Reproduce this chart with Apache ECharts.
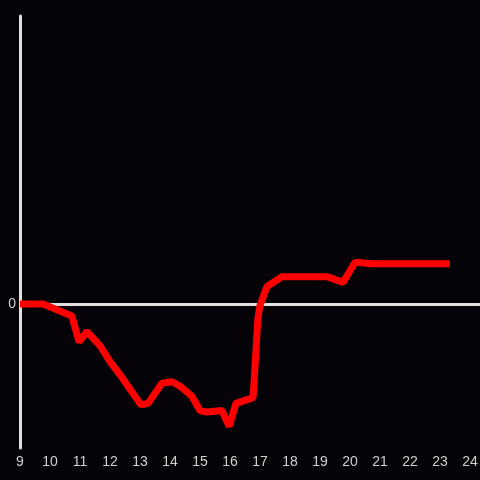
<!DOCTYPE html>
<html><head><meta charset="utf-8">
<script src="https://cdn.jsdelivr.net/npm/echarts@6/dist/echarts.min.js"></script>
<style>html,body{margin:0;padding:0;background:#050307}#c{width:480px;height:480px}</style>
</head><body><div id="c"></div>
<script>
const hours = [9.0, 9.77, 10.73, 10.97, 11.23, 11.67, 12.0, 12.33, 12.7, 13.03, 13.27, 13.73, 14.07, 14.33, 14.73, 15.0, 15.23, 15.73, 15.97, 16.2, 16.77, 16.93, 17.0, 17.23, 17.73, 19.23, 19.77, 20.17, 20.73, 23.33];
const values = [0, 0, -0.083, -0.264, -0.19, -0.29, -0.40, -0.49, -0.60, -0.70, -0.69, -0.55, -0.54, -0.57, -0.64, -0.74, -0.75, -0.74, -0.85, -0.69, -0.65, -0.10, -0.01, 0.12, 0.19, 0.19, 0.15, 0.29, 0.28, 0.28];
const yTickLabels = {"0": "0"};

const chart = echarts.init(document.getElementById('c'), null, {renderer: 'canvas'});
chart.setOption({
  backgroundColor: '#050307',
  animation: false,
  grid: {left: 20, right: 0, top: 16, bottom: 32, outerBoundsMode: 'none', containLabel: false},
  xAxis: {
    type: 'value', min: 9, max: 24.3333, interval: 1,
    axisLine: {show: false, onZero: false},
    axisTick: {show: false},
    splitLine: {show: false},
    axisLabel: {color: '#d0d0d0', fontSize: 14, fontFamily: 'Liberation Sans', margin: 7,
      formatter: v => Number.isInteger(v) ? String(v) : ''}
  },
  yAxis: {
    type: 'value', min: -1, max: 2, interval: 1,
    axisLine: {show: true, lineStyle: {color: '#e0e0e0', width: 3}},
    axisTick: {show: false},
    splitLine: {show: false},
    axisLabel: {color: '#d0d0d0', fontSize: 14, fontFamily: 'Liberation Sans', margin: 4,
      formatter: v => yTickLabels[String(v)] || ''}
  },
  series: [{
    type: 'line',
    data: hours.map((h, i) => [h, values[i]]),
    symbol: 'none',
    lineStyle: {color: '#ff0000', width: 7},
    z: 3,
    markLine: {
      silent: true, symbol: 'none', label: {show: false},
      lineStyle: {color: '#e0e0e0', width: 3, type: 'solid'},
      data: [{yAxis: 0}],
      z: 2
    }
  }]
});
</script></body></html>
